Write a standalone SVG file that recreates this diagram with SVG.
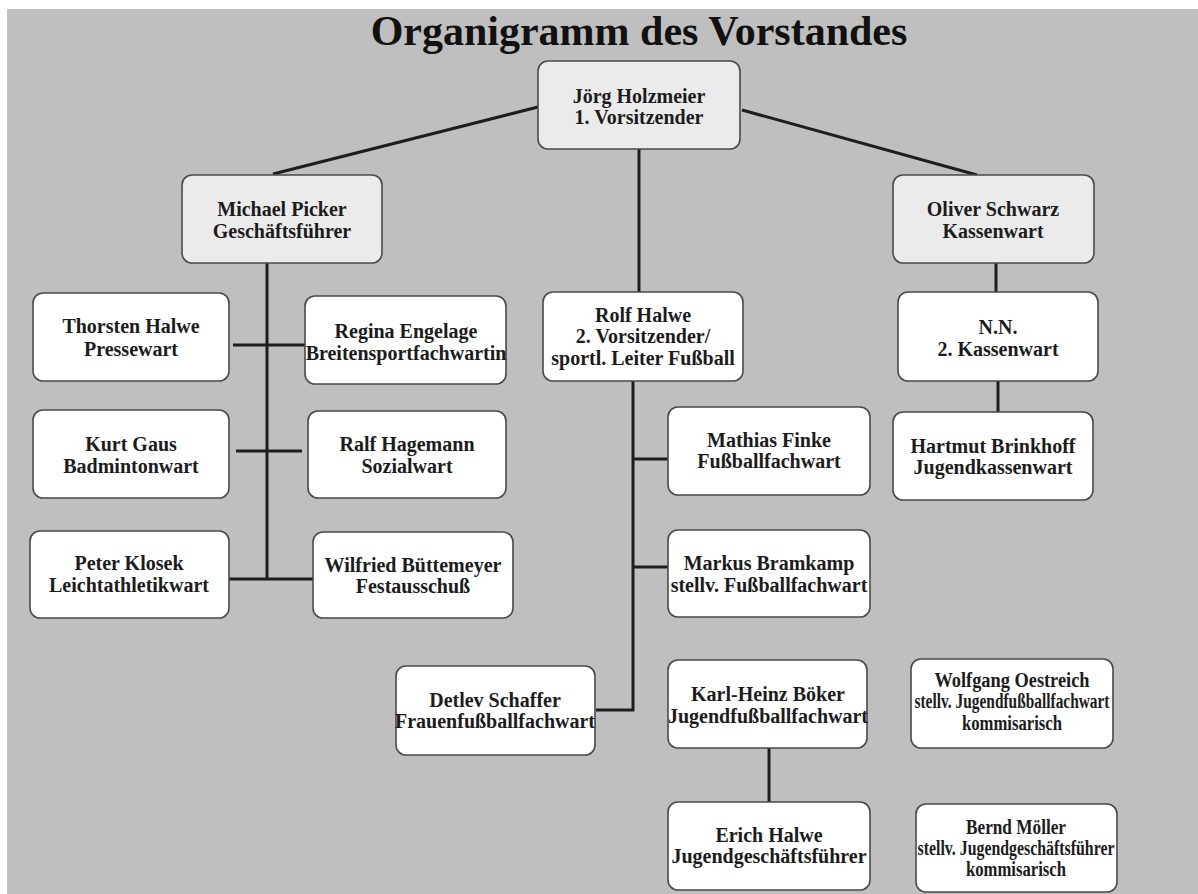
<svg xmlns="http://www.w3.org/2000/svg" width="1198" height="894" viewBox="0 0 1198 894">
<style>
.bg{fill:#bfbfbf}
.n{fill:#ffffff;stroke:#4a4a4a;stroke-width:1.6}
.g{fill:#ebebeb}
.t{font-family:"Liberation Serif","Times New Roman",serif;font-weight:bold;font-size:20px;fill:#1c1c1c;text-anchor:middle}
.title{font-family:"Liberation Serif","Times New Roman",serif;font-weight:bold;font-size:42px;fill:#111;text-anchor:middle}
.c{stroke:#1e1e1e;stroke-width:3;fill:none}
</style>
<rect width="1198" height="894" fill="#ffffff"/>
<rect class="bg" x="7" y="9" width="1191" height="885"/>
<text class="title" x="639" y="45">Organigramm des Vorstandes</text>
<g id="connectors">
<path class="c" d="M538 107 L273 174"/>
<path class="c" d="M742 110 L977 175"/>
<path class="c" d="M639 149 V292"/>
<path class="c" d="M267 263 V579"/>
<path class="c" d="M233 345 H305"/>
<path class="c" d="M236 451 H302"/>
<path class="c" d="M229 579 H313"/>
<path class="c" d="M633 381 V710 H596"/>
<path class="c" d="M633 459 H668"/>
<path class="c" d="M633 567 H668"/>
<path class="c" d="M996 263 V292"/>
<path class="c" d="M998 381 V412"/>
<path class="c" d="M769 748 V802"/>
</g>
<g id="n-holzmeier"><rect class="n g" x="538" y="61" width="202" height="88" rx="10"/><text class="t" x="639" y="103">Jörg Holzmeier</text><text class="t" x="639" y="124">1. Vorsitzender</text></g>
<g id="n-picker"><rect class="n g" x="182" y="175" width="200" height="88" rx="10"/><text class="t" x="282" y="216">Michael Picker</text><text class="t" x="282" y="238">Geschäftsführer</text></g>
<g id="n-schwarz"><rect class="n g" x="893" y="175" width="201" height="88" rx="10"/><text class="t" x="993" y="216">Oliver Schwarz</text><text class="t" x="993" y="238">Kassenwart</text></g>
<g id="n-rolf"><rect class="n" x="543" y="292" width="200" height="89" rx="10"/><text class="t" x="643" y="322">Rolf Halwe</text><text class="t" x="643" y="343">2. Vorsitzender/</text><text class="t" x="643" y="365">sportl. Leiter Fußball</text></g>
<g id="n-thorsten"><rect class="n" x="33" y="293" width="196" height="88" rx="10"/><text class="t" x="131" y="333">Thorsten Halwe</text><text class="t" x="131" y="356">Pressewart</text></g>
<g id="n-regina"><rect class="n" x="305" y="296" width="201" height="88" rx="10"/><text class="t" x="406" y="338">Regina Engelage</text><text class="t" x="406" y="360">Breitensportfachwartin</text></g>
<g id="n-kurt"><rect class="n" x="33" y="410" width="196" height="88" rx="10"/><text class="t" x="131" y="451">Kurt Gaus</text><text class="t" x="131" y="473">Badmintonwart</text></g>
<g id="n-ralf"><rect class="n" x="308" y="411" width="198" height="87" rx="10"/><text class="t" x="407" y="451">Ralf Hagemann</text><text class="t" x="407" y="473">Sozialwart</text></g>
<g id="n-peter"><rect class="n" x="30" y="531" width="199" height="87" rx="10"/><text class="t" x="129" y="570">Peter Klosek</text><text class="t" x="129" y="592">Leichtathletikwart</text></g>
<g id="n-wilfried"><rect class="n" x="313" y="532" width="200" height="86" rx="10"/><text class="t" x="413" y="572">Wilfried Büttemeyer</text><text class="t" x="413" y="593">Festausschuß</text></g>
<g id="n-mathias"><rect class="n" x="668" y="407" width="202" height="88" rx="10"/><text class="t" x="769" y="447">Mathias Finke</text><text class="t" x="769" y="468">Fußballfachwart</text></g>
<g id="n-markus"><rect class="n" x="668" y="530" width="202" height="87" rx="10"/><text class="t" x="769" y="570">Markus Bramkamp</text><text class="t" x="769" y="592">stellv. Fußballfachwart</text></g>
<g id="n-detlev"><rect class="n" x="396" y="666" width="199" height="89" rx="10"/><text class="t" x="495" y="707">Detlev Schaffer</text><text class="t" x="495" y="728">Frauenfußballfachwart</text></g>
<g id="n-karlheinz"><rect class="n" x="668" y="660" width="199" height="88" rx="10"/><text class="t" x="768" y="701">Karl-Heinz Böker</text><text class="t" x="768" y="723">Jugendfußballfachwart</text></g>
<g id="n-erich"><rect class="n" x="668" y="802" width="202" height="88" rx="10"/><text class="t" x="769" y="842">Erich Halwe</text><text class="t" x="769" y="863">Jugendgeschäftsführer</text></g>
<g id="n-nn"><rect class="n" x="898" y="292" width="200" height="89" rx="10"/><text class="t" x="998" y="334">N.N.</text><text class="t" x="998" y="356">2. Kassenwart</text></g>
<g id="n-hartmut"><rect class="n" x="893" y="412" width="200" height="88" rx="10"/><text class="t" x="993" y="453">Hartmut Brinkhoff</text><text class="t" x="993" y="474">Jugendkassenwart</text></g>
<g id="n-wolfgang"><rect class="n" x="911" y="659" width="202" height="89" rx="10"/><text class="t" x="1012" y="687" textLength="155" lengthAdjust="spacingAndGlyphs">Wolfgang Oestreich</text><text class="t" x="1012" y="708" textLength="195" lengthAdjust="spacingAndGlyphs">stellv. Jugendfußballfachwart</text><text class="t" x="1012" y="730" textLength="100" lengthAdjust="spacingAndGlyphs">kommisarisch</text></g>
<g id="n-bernd"><rect class="n" x="916" y="804" width="201" height="88" rx="10"/><text class="t" x="1016" y="834" textLength="100" lengthAdjust="spacingAndGlyphs">Bernd Möller</text><text class="t" x="1016" y="855" textLength="197" lengthAdjust="spacingAndGlyphs">stellv. Jugendgeschäftsführer</text><text class="t" x="1016" y="876" textLength="100" lengthAdjust="spacingAndGlyphs">kommisarisch</text></g>
</svg>
